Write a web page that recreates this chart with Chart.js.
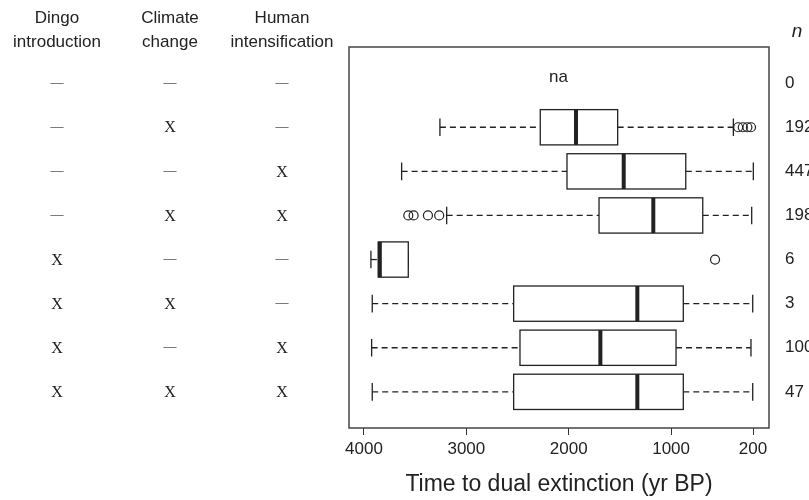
<!DOCTYPE html>
<html>
<head>
<meta charset="utf-8">
<script src="https://cdn.jsdelivr.net/npm/chart.js@4"></script>
<style>
  html, body { margin: 0; padding: 0; background: #fff; }
</style>
</head>
<body>
<canvas id="boxChart" width="809" height="500"></canvas>
<script>
// scenario table (1 = factor present)
const headers = [["Dingo", "introduction"], ["Climate", "change"], ["Human", "intensification"]];
const dingo   = [0, 0, 0, 0, 1, 1, 1, 1];
const climate = [0, 1, 0, 1, 0, 1, 0, 1];
const human   = [0, 0, 1, 1, 0, 0, 1, 1];
const nRuns   = [0, 192, 447, 198, 6, 3, 100, 47];

// box stats, time to dual extinction (yr BP); null = no runs
const whiskerLo = [null, 392, 197, 213, 3567, 203, 220, 203];
const q1        = [null, 1522, 857, 691, 3567, 881, 952, 881];
const median    = [null, 1929, 1463, 1174, 3845, 1330, 1691, 1330];
const q3        = [null, 2278, 2017, 1704, 3860, 2538, 2476, 2538];
const whiskerHi = [null, 3258, 3632, 3192, 3932, 3919, 3925, 3919];
const outliers  = [[], [345, 300, 255, 220], [], [3567, 3515, 3375, 3265], [571], [], [], []];

const tickVals = [4000, 3000, 2000, 1000, 200];

const outlierPoints = [];
outliers.forEach((list, i) => list.forEach(v => outlierPoints.push({ x: v, y: i + 1 })));

const ink = "#222";

const boxPlugin = {
  id: "boxes",
  beforeDatasetsDraw(chart) {
    const { ctx, scales: { x, y } } = chart;
    const half = Math.abs(y.getPixelForValue(1.4) - y.getPixelForValue(1));
    const staple = half / 2;
    ctx.save();
    ctx.strokeStyle = ink;
    for (let i = 0; i < median.length; i++) {
      if (median[i] === null) continue;
      const cy = y.getPixelForValue(i + 1);
      const xLo = x.getPixelForValue(whiskerLo[i]);
      const xQ1 = x.getPixelForValue(q1[i]);
      const xMed = x.getPixelForValue(median[i]);
      const xQ3 = x.getPixelForValue(q3[i]);
      const xHi = x.getPixelForValue(whiskerHi[i]);

      // whiskers
      ctx.lineWidth = 1.3;
      ctx.setLineDash([6, 4]);
      ctx.beginPath();
      ctx.moveTo(xHi, cy); ctx.lineTo(xQ3, cy);
      ctx.moveTo(xQ1, cy); ctx.lineTo(xLo, cy);
      ctx.stroke();
      ctx.setLineDash([]);
      ctx.beginPath();
      ctx.moveTo(xHi, cy - staple); ctx.lineTo(xHi, cy + staple);
      ctx.moveTo(xLo, cy - staple); ctx.lineTo(xLo, cy + staple);
      ctx.stroke();

      // box
      ctx.fillStyle = "#fff";
      ctx.fillRect(xQ3, cy - half, xQ1 - xQ3, half * 2);
      ctx.lineWidth = 1.3;
      ctx.strokeRect(xQ3, cy - half, xQ1 - xQ3, half * 2);

      // median
      ctx.lineWidth = 4;
      ctx.beginPath();
      ctx.moveTo(xMed, cy - half); ctx.lineTo(xMed, cy + half);
      ctx.stroke();
    }
    ctx.restore();
  },
  afterDraw(chart) {
    const { ctx, chartArea: a, scales: { x, y } } = chart;
    ctx.save();
    // frame
    ctx.strokeStyle = "#444";
    ctx.lineWidth = 1.5;
    ctx.strokeRect(a.left, a.top, a.width, a.height);

    ctx.textAlign = "center";
    ctx.textBaseline = "middle";
    ctx.fillStyle = ink;

    // "na" for the empty scenario
    ctx.font = "17px 'Liberation Sans', Arial, sans-serif";
    median.forEach((m, i) => {
      if (m === null) ctx.fillText("na", x.getPixelForValue(2100), y.getPixelForValue(i + 1) - 6);
    });

    // table headers
    const colX = [57, 170, 282];
    headers.forEach((h, c) => {
      ctx.fillText(h[0], colX[c], 18);
      ctx.fillText(h[1], colX[c], 42);
    });

    // table marks
    [dingo, climate, human].forEach((col, c) => {
      col.forEach((on, i) => {
        const cy = y.getPixelForValue(i + 1);
        if (on) {
          ctx.fillStyle = ink;
          ctx.font = "16px 'Liberation Serif', 'Times New Roman', serif";
          ctx.fillText("X", colX[c], cy + 1);
        } else {
          ctx.fillStyle = "#6a6a6a";
          ctx.font = "bold 13px 'Liberation Serif', 'Times New Roman', serif";
          ctx.fillText("\u2014", colX[c], cy - 1);
        }
      });
    });

    // n column
    ctx.fillStyle = ink;
    ctx.font = "italic 19px 'Liberation Sans', Arial, sans-serif";
    ctx.fillText("n", 797, 32);
    ctx.textAlign = "left";
    ctx.font = "17px 'Liberation Sans', Arial, sans-serif";
    nRuns.forEach((n, i) => ctx.fillText(String(n), 785, y.getPixelForValue(i + 1)));
    ctx.restore();
  }
};

new Chart(document.getElementById("boxChart").getContext("2d"), {
  type: "scatter",
  data: {
    datasets: [{
      label: "Outliers",
      data: outlierPoints,
      pointStyle: "circle",
      pointRadius: 4.5,
      pointBorderWidth: 1.2,
      borderColor: ink,
      backgroundColor: "rgba(0,0,0,0)"
    }]
  },
  options: {
    responsive: false,
    animation: false,
    events: [],
    layout: { padding: { left: 349, right: 40, top: 47, bottom: 0 } },
    plugins: { legend: { display: false }, tooltip: { enabled: false } },
    scales: {
      x: {
        type: "linear",
        reverse: true,
        min: 44,
        max: 4146,
        afterBuildTicks: s => { s.ticks = tickVals.map(v => ({ value: v })); },
        afterFit: s => { s.height = 72; },
        grid: { drawOnChartArea: false, drawTicks: true, tickLength: 7, color: "#333" },
        border: { display: false },
        ticks: {
          color: ink,
          padding: 4,
          maxRotation: 0,
          autoSkip: false,
          font: { family: "'Liberation Sans', Arial, sans-serif", size: 17 },
          callback: v => String(v)
        },
        title: {
          display: true,
          text: "Time to dual extinction (yr BP)",
          color: ink,
          padding: { top: 0, bottom: 2 },
          font: { family: "'Liberation Sans', Arial, sans-serif", size: 23 }
        }
      },
      y: {
        type: "linear",
        display: false,
        reverse: true,
        min: 0.18,
        max: 8.82
      }
    }
  },
  plugins: [boxPlugin]
});
</script>
</body>
</html>
